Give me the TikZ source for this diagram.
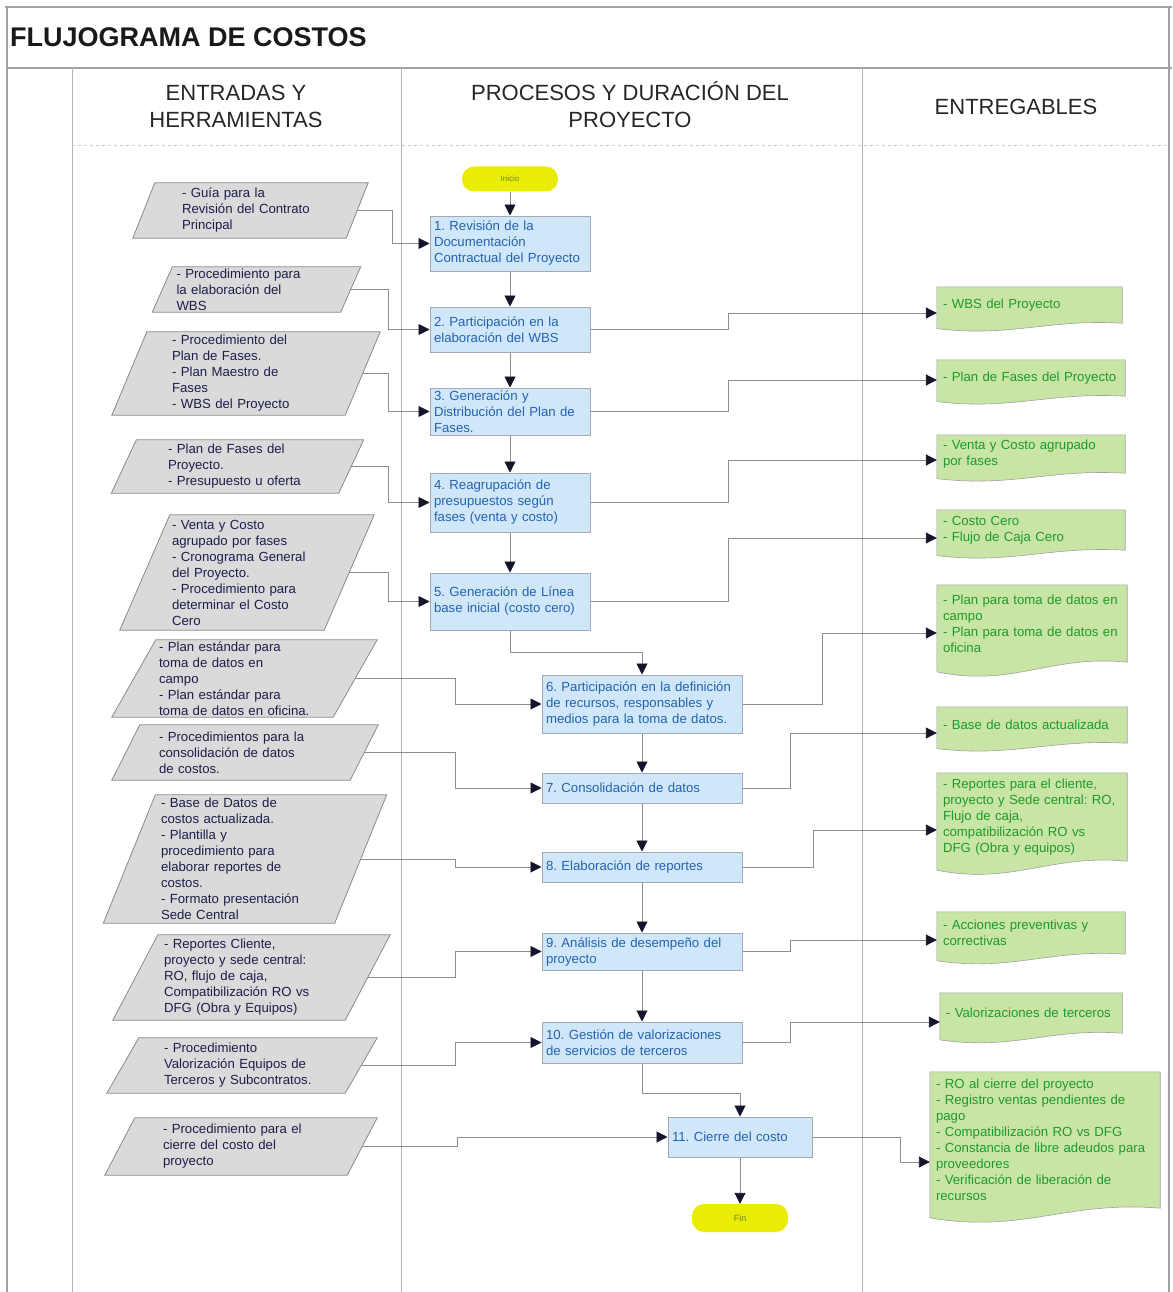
\documentclass[tikz,border=0pt]{standalone}
\usepackage{fontspec}
\setmainfont{Liberation Sans}
\usetikzlibrary{arrows.meta,backgrounds,calc}
\frenchspacing

\definecolor{framegray}{HTML}{A2A2A2}
\definecolor{linegray}{HTML}{8E8E8E}
\definecolor{infill}{HTML}{DADADA}
\definecolor{inedge}{HTML}{8A8A8A}
\definecolor{intext}{HTML}{1C1E4A}
\definecolor{procfill}{HTML}{CFE7F8}
\definecolor{procedge}{HTML}{A3AAB5}
\definecolor{proctext}{HTML}{2463B0}
\definecolor{delfill}{HTML}{C8E5A6}
\definecolor{deledge}{HTML}{A0A0A0}
\definecolor{deltext}{HTML}{1E9A2A}
\definecolor{termfill}{HTML}{E9EC05}
\definecolor{termtext}{HTML}{6E8A2E}
\definecolor{tipcol}{HTML}{14142A}

\tikzset{
  body/.style={font=\fontsize{13.2}{16}\selectfont},
  frame/.style={draw=framegray, line width=1.2pt},
  colline/.style={draw=framegray!80, line width=0.9pt},
  hdr/.style={font=\fontsize{22}{27}\selectfont, align=center, text=black!85},
  inp/.style={body, text=intext, inner sep=0pt, align=left},
  inbox/.style={fill=infill, draw=inedge, line width=0.8pt},
  proc/.style={body, text=proctext, fill=procfill, draw=procedge, line width=1pt,
               inner xsep=4pt, inner ysep=0pt, align=left},
  del/.style={body, text=deltext, inner xsep=6pt, inner ysep=0pt, align=left},
  delbox/.style={fill=delfill, draw=deledge, line width=0.6pt},
  term/.style={fill=termfill, draw=none, rounded corners=12pt, inner sep=0pt,
               font=\fontsize{8}{9}\selectfont, text=termtext},
  conn/.style={draw=linegray, line width=0.9pt,
               -{Triangle[length=11pt,width=11pt,color=tipcol]}}
}

% slanted data shape around a node: #1 node, #2 horizontal slant
\newcommand\inshape[2]{%
  \path[inbox] ([xshift=0.5*#2]#1.north west) -- ([xshift=0.5*#2]#1.north east)
    -- ([xshift=-0.5*#2]#1.south east) -- ([xshift=-0.5*#2]#1.south west) -- cycle;}

% document shape with a wavy lower edge: #1 node, #2 wave depth
\newcommand\docwave[2]{%
  \path[delbox] (#1.north west) -- (#1.north east) -- (#1.south east)
    .. controls ($(#1.south east)!0.4!(#1.south west)+(0,-0.5*#2)$)
       and ($(#1.south west)!0.4!(#1.south east)+(0,1.6*#2)$)
    .. ($(#1.south west)+(0,0.6*#2)$) -- cycle;}

\begin{document}
\begin{tikzpicture}[x=1pt,y=-1pt]
\useasboundingbox (0,0) rectangle (1172,1292);

% table frame
\draw[frame] (5,7) -- (1172,7);
\draw[frame] (7,7) -- (7,1292);
\draw[frame] (1169,7) -- (1169,1292);
\draw[frame, line width=1.6pt] (7,68) -- (1172,68);
\draw[colline] (72,68) -- (72,1292);
\draw[colline] (401,68) -- (401,1292);
\draw[colline] (862,68) -- (862,1292);
\draw[draw=black!20, dashed, line width=0.6pt] (72,145) -- (1169,145);

% title and column headers
\node[anchor=west, font=\bfseries\fontsize{27}{30}\selectfont, text=black!90, inner sep=0pt]
  (title) at (10,37) {FLUJOGRAMA DE COSTOS};
\node[hdr] (h1) at (236,106.5) {ENTRADAS Y\\HERRAMIENTAS};
\node[hdr] (h2) at (630,105) {PROCESOS Y DURACIÓN DEL\\PROYECTO};
\node[hdr] (h3) at (1016,107) {ENTREGABLES};

% inputs and tools
\node[inp, minimum width=213pt, minimum height=55pt, text width=137pt] (in1) at (250.5,210.5)
  {- Guía para la\\Revisión del Contrato\\Principal};
\node[inp, minimum width=188pt, minimum height=45pt, text width=160pt] (in2) at (256.5,289.5)
  {- Procedimiento para\\la elaboración del\\WBS};
\node[inp, minimum width=233pt, minimum height=83pt, text width=148pt] (in3) at (246,373.5)
  {- Procedimiento del\\Plan de Fases.\\- Plan Maestro de\\Fases\\- WBS del Proyecto};
\node[inp, minimum width=227pt, minimum height=53pt, text width=139pt] (in4) at (237.5,466.5)
  {- Plan de Fases del\\Proyecto.\\- Presupuesto u oferta};
\node[inp, minimum width=204pt, minimum height=115pt, text width=150pt] (in5) at (247,572.5)
  {- Venta y Costo\\agrupado por fases\\- Cronograma General\\del Proyecto.\\- Procedimiento para\\determinar el Costo\\Cero};
\node[inp, minimum width=221pt, minimum height=77pt, text width=171pt] (in6) at (244.5,678.5)
  {- Plan estándar para\\toma de datos en\\campo\\- Plan estándar para\\toma de datos en oficina.};
\node[inp, minimum width=238pt, minimum height=55pt, text width=172pt] (in7) at (245,752.5)
  {- Procedimientos para la\\consolidación de datos\\de costos.};
\node[inp, minimum width=231pt, minimum height=128pt, text width=168pt] (in8) at (245,859)
  {- Base de Datos de\\costos actualizada.\\- Plantilla y\\procedimiento para\\elaborar reportes de\\costos.\\- Formato presentación\\Sede Central};
\node[inp, minimum width=232pt, minimum height=85pt, text width=175pt] (in9) at (251.5,977.5)
  {- Reportes Cliente,\\proyecto y sede central:\\RO, flujo de caja,\\Compatibilización RO vs\\DFG (Obra y Equipos)};
\node[inp, minimum width=238pt, minimum height=55pt, text width=156pt] (in10) at (242,1065.5)
  {- Procedimiento\\Valorización Equipos de\\Terceros y Subcontratos.};
\node[inp, minimum width=242pt, minimum height=57pt, text width=156pt] (in11) at (241,1146.5)
  {- Procedimiento para el\\cierre del costo del\\proyecto};

% process steps
\node[term, minimum width=96pt, minimum height=25pt] (ini) at (510,179) {Inicio};
\node[proc, minimum width=160pt, minimum height=55pt, text width=152pt] (p1) at (510,243.5)
  {1. Revisión de la\\Documentación\\Contractual del Proyecto};
\node[proc, minimum width=160pt, minimum height=45pt, text width=152pt] (p2) at (510,329.5)
  {2. Participación en la\\elaboración del WBS};
\node[proc, minimum width=160pt, minimum height=47pt, text width=152pt] (p3) at (510,411.5)
  {3. Generación y\\Distribución del Plan de\\Fases.};
\node[proc, minimum width=160pt, minimum height=59pt, text width=152pt] (p4) at (510,502.5)
  {4. Reagrupación de\\presupuestos según\\fases (venta y costo)};
\node[proc, minimum width=160pt, minimum height=57pt, text width=152pt] (p5) at (510,601.5)
  {5. Generación de Línea\\base inicial (costo cero)};
\node[proc, minimum width=200pt, minimum height=58pt, text width=192pt] (p6) at (642,704)
  {6. Participación en la definición\\de recursos, responsables y\\medios para la toma de datos.};
\node[proc, minimum width=200pt, minimum height=30pt, text width=192pt] (p7) at (642,788)
  {7. Consolidación de datos};
\node[proc, minimum width=200pt, minimum height=30pt, text width=192pt] (p8) at (642,867)
  {8. Elaboración de reportes};
\node[proc, minimum width=200pt, minimum height=37pt, text width=192pt] (p9) at (642,951.5)
  {9. Análisis de desempeño del\\proyecto};
\node[proc, minimum width=200pt, minimum height=41pt, text width=192pt] (p10) at (642,1042.5)
  {10. Gestión de valorizaciones\\de servicios de terceros};
\node[proc, minimum width=144pt, minimum height=40pt, text width=136pt] (p11) at (740,1137)
  {11. Cierre del costo};
\node[term, minimum width=96pt, minimum height=28pt, font=\fontsize{9}{10}\selectfont] (fin) at (740,1218) {Fin};

% deliverables
\node[del, minimum width=185pt, minimum height=36pt, text width=173pt] (d1) at (1029.5,305)
  {- WBS del Proyecto};
\node[del, minimum width=188pt, minimum height=36pt, text width=176pt] (d2) at (1031,378)
  {- Plan de Fases del Proyecto};
\node[del, minimum width=188pt, minimum height=38pt, text width=176pt] (d3) at (1031,454)
  {- Venta y Costo agrupado\\por fases};
\node[del, minimum width=188pt, minimum height=40pt, text width=176pt] (d4) at (1031,530)
  {- Costo Cero\\- Flujo de Caja Cero};
\node[del, minimum width=190pt, minimum height=77pt, text width=178pt] (d5) at (1032,623.5)
  {- Plan para toma de datos en\\campo\\- Plan para toma de datos en\\oficina};
\node[del, minimum width=190pt, minimum height=36pt, text width=178pt] (d6) at (1032,725)
  {- Base de datos actualizada};
\node[del, minimum width=190pt, minimum height=88pt, text width=178pt] (d7) at (1032,817)
  {- Reportes para el cliente,\\proyecto y Sede central: RO,\\Flujo de caja,\\compatibilización RO vs\\DFG (Obra y equipos)};
\node[del, minimum width=188pt, minimum height=42pt, text width=176pt] (d8) at (1031,933)
  {- Acciones preventivas y\\correctivas};
\node[del, minimum width=182pt, minimum height=40pt, text width=170pt] (d9) at (1031,1013)
  {- Valorizaciones de terceros};
\node[del, minimum width=230pt, minimum height=136pt, text width=218pt] (d10) at (1045,1140)
  {- RO al cierre del proyecto\\- Registro ventas pendientes de\\pago\\- Compatibilización RO vs DFG\\- Constancia de libre adeudos para\\proveedores\\- Verificación de liberación de\\recursos};

% shapes behind the texts
\begin{pgfonlayer}{background}
  \inshape{in1}{22pt}
  \inshape{in2}{20pt}
  \inshape{in3}{35pt}
  \inshape{in4}{25pt}
  \inshape{in5}{50pt}
  \inshape{in6}{44pt}
  \inshape{in7}{28pt}
  \inshape{in8}{52pt}
  \inshape{in9}{45pt}
  \inshape{in10}{32pt}
  \inshape{in11}{30pt}
  \docwave{d1}{9}
  \docwave{d2}{9}
  \docwave{d3}{9}
  \docwave{d4}{9}
  \docwave{d5}{16}
  \docwave{d6}{9}
  \docwave{d7}{15}
  \docwave{d8}{11}
  \docwave{d9}{11}
  \docwave{d10}{16}
\end{pgfonlayer}

% main flow
\draw[conn] (ini.south) -- (p1.north);
\draw[conn] (p1.south) -- (p2.north);
\draw[conn] (p2.south) -- (p3.north);
\draw[conn] (p3.south) -- (p4.north);
\draw[conn] (p4.south) -- (p5.north);
\draw[conn] (p5.south) -- ++(0,22) -| (p6.north);
\draw[conn] (p6.south) -- (p7.north);
\draw[conn] (p7.south) -- (p8.north);
\draw[conn] (p8.south) -- (p9.north);
\draw[conn] (p9.south) -- (p10.north);
\draw[conn] (p10.south) -- ++(0,30) -| (p11.north);
\draw[conn] (p11.south) -- (fin.north);

% inputs into the steps
\draw[conn] (in1.east) -- ++(35,0) |- (p1.west);
\draw[conn] (in2.east) -- ++(38,0) |- (p2.west);
\draw[conn] (in3.east) -- ++(26,0) |- (p3.west);
\draw[conn] (in4.east) -- ++(37,0) |- (p4.west);
\draw[conn] (in5.east) -- ++(39,0) |- (p5.west);
\draw[conn] (in6.east) -- ++(100,0) |- (p6.west);
\draw[conn] (in7.east) -- ++(91,0) |- (p7.west);
\draw[conn] (in8.east) -- ++(95,0) |- (p8.west);
\draw[conn] (in9.east) -- ++(88,0) |- (p9.west);
\draw[conn] (in10.east) -- ++(94,0) |- (p10.west);
\draw[conn] (in11.east) -- ++(95,0) |- (p11.west);

% steps into deliverables
\draw[conn] (p2.east) -- ++(138,0) |- ([yshift=-8pt]d1.west);
\draw[conn] (p3.east) -- ++(138,0) |- ([yshift=-2pt]d2.west);
\draw[conn] (p4.east) -- ++(138,0) |- ([yshift=-6pt]d3.west);
\draw[conn] (p5.east) -- ++(138,0) |- ([yshift=-8pt]d4.west);
\draw[conn] (p6.east) -- ++(80,0) |- ([yshift=-9.5pt]d5.west);
\draw[conn] (p7.east) -- ++(48,0) |- ([yshift=-8pt]d6.west);
\draw[conn] (p8.east) -- ++(71,0) |- ([yshift=-13pt]d7.west);
\draw[conn] (p9.east) -- ++(48,0) |- ([yshift=-7pt]d8.west);
\draw[conn] (p10.east) -- ++(48,0) |- ([yshift=-9pt]d9.west);
\draw[conn] (p11.east) -- ++(88,0) |- ([yshift=-22pt]d10.west);
\end{tikzpicture}
\end{document}
